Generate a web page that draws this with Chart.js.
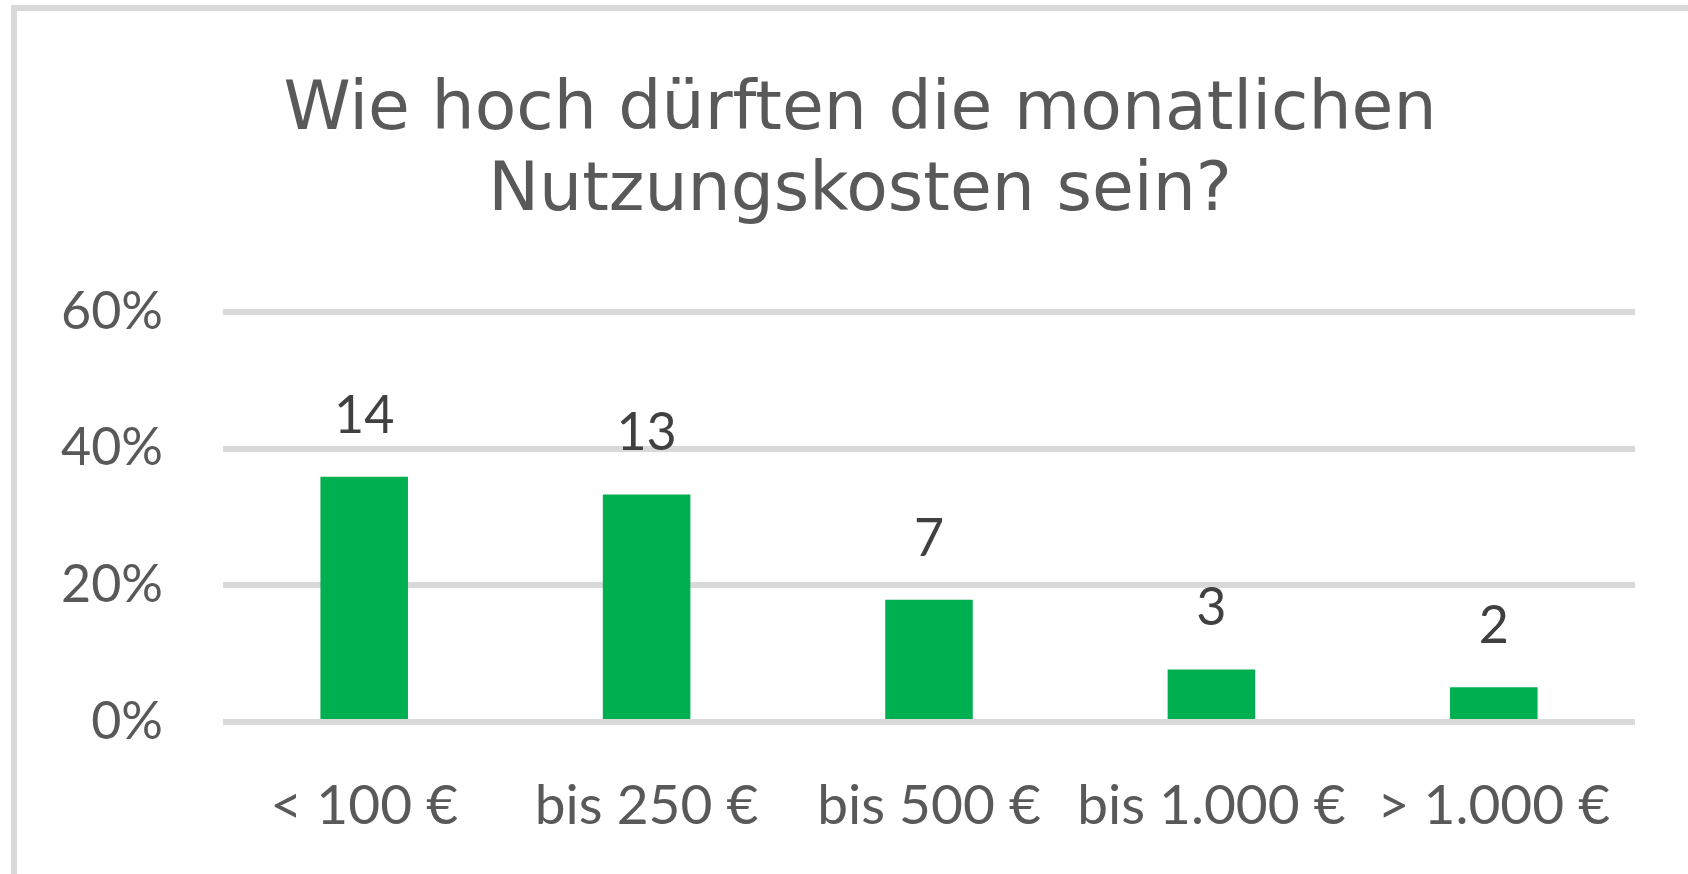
<!DOCTYPE html>
<html>
<head>
<meta charset="utf-8">
<script src="https://cdn.jsdelivr.net/npm/chart.js@4.4.1/dist/chart.umd.min.js"></script>
<style>
  html, body { margin: 0; padding: 0; background: #ffffff; overflow: hidden; }
  #frame { position: absolute; left: 11px; top: 5px; width: 2000px; height: 2000px; border: 6px solid #d9d9d9; box-sizing: border-box; }
  #wrap { position: absolute; left: 0; top: 0; width: 1688px; height: 874px; }
</style>
</head>
<body>
<div id="frame"></div>
<div id="wrap"><canvas id="c" width="1688" height="874"></canvas></div>
<script>
const titleLines = ["Wie hoch dürften die monatlichen", "Nutzungskosten sein?"];
const categories = ["< 100 €", "bis 250 €", "bis 500 €", "bis 1.000 €", "> 1.000 €"];
const percentValues = [35.9, 33.3, 17.9, 7.7, 5.1];
const countLabels = [14, 13, 7, 3, 2];
const yTickMin = 0, yTickMax = 60, yTickStep = 20;

const countLabelPlugin = {
  id: 'countLabels',
  afterLayout(chart) {
    // let the y tick labels use the free space left of the axis box
    chart.scales.y.left = 0;
  },
  afterDatasetsDraw(chart) {
    const ctx = chart.ctx;
    const meta = chart.getDatasetMeta(0);
    ctx.save();
    ctx.font = '52px Lato';
    ctx.fillStyle = '#404040';
    ctx.textAlign = 'center';
    ctx.textBaseline = 'alphabetic';
    meta.data.forEach((bar, i) => {
      ctx.fillText(String(countLabels[i]), bar.x, bar.y - 44);
    });
    ctx.restore();
  }
};

new Chart(document.getElementById('c'), {
  type: 'bar',
  data: {
    labels: categories,
    datasets: [{
      data: percentValues,
      backgroundColor: '#00B050',
      borderWidth: 0,
      barPercentage: 0.31,
      categoryPercentage: 1.0
    }]
  },
  options: {
    responsive: false,
    animation: false,
    devicePixelRatio: 1,
    layout: { padding: { left: 85, right: 53, top: 0, bottom: 0 } },
    plugins: {
      legend: { display: false },
      tooltip: { enabled: false },
      title: {
        display: true,
        text: titleLines,
        color: '#595959',
        font: { family: 'DejaVu Sans', size: 68, weight: 'normal', lineHeight: 1.191 },
        padding: { top: 70.5, bottom: 79.5 }
      }
    },
    scales: {
      x: {
        grid: { display: false, drawTicks: false },
        border: { display: false },
        ticks: {
          color: '#595959',
          font: { family: 'Lato', size: 55 },
          padding: 51,
          maxRotation: 0,
          autoSkip: false
        },
        afterFit(scale) { scale.height = 152; }
      },
      y: {
        min: yTickMin,
        max: yTickMax,
        grid: { color: '#d9d9d9', lineWidth: 6, drawTicks: false },
        border: { display: false },
        ticks: {
          stepSize: yTickStep,
          color: '#595959',
          font: { family: 'Lato', size: 52 },
          padding: 60,
          callback: v => v + '%'
        },
        afterFit(scale) { scale.width = 138; }
      }
    }
  },
  plugins: [countLabelPlugin]
});
</script>
</body>
</html>
